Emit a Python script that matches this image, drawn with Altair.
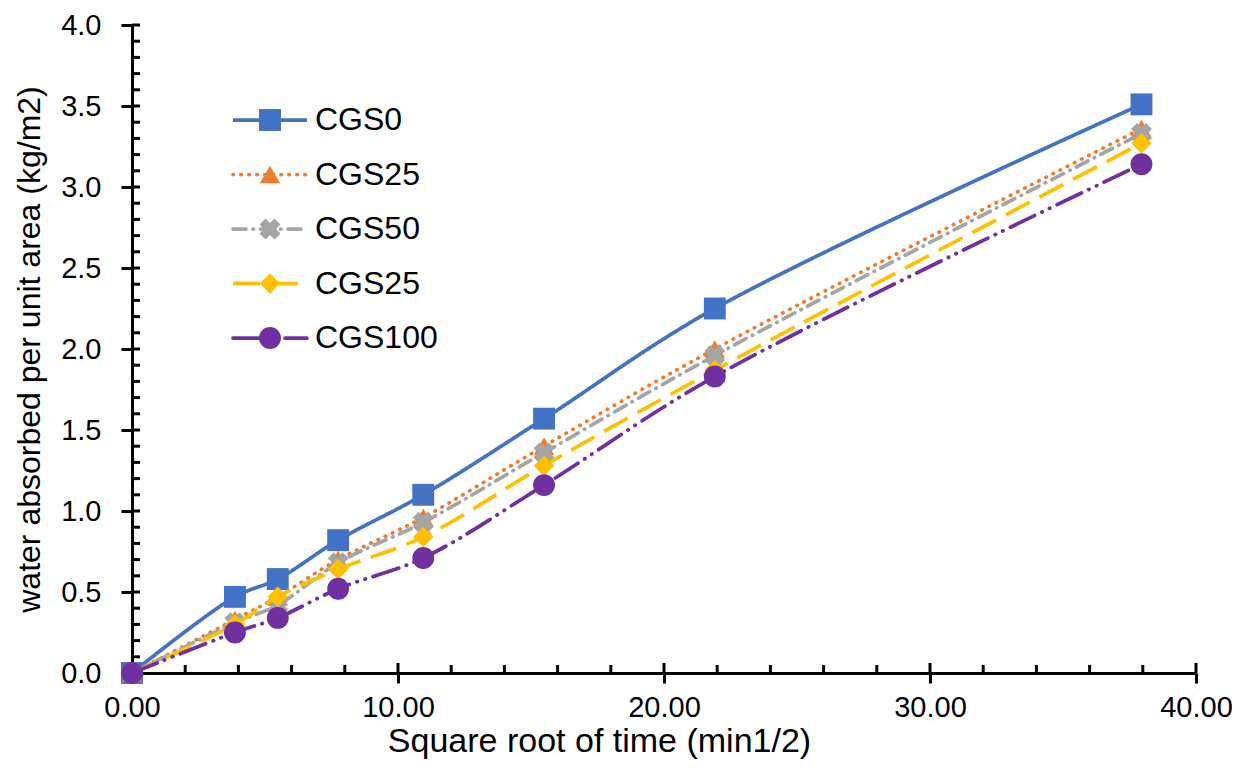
import altair as alt
import pandas as pd

# ---- data ----
x_vals = [0.0, 3.87, 5.48, 7.75, 10.95, 15.49, 21.91, 37.95]
cgs0 = [0.0, 0.47, 0.58, 0.82, 1.10, 1.57, 2.25, 3.51]
cgs25 = [0.0, 0.33, 0.47, 0.70, 0.96, 1.40, 2.00, 3.36]
cgs50 = [0.0, 0.31, 0.42, 0.68, 0.93, 1.36, 1.96, 3.33]
cgs25b = [0.0, 0.30, 0.47, 0.64, 0.84, 1.28, 1.87, 3.27]
cgs100 = [0.0, 0.25, 0.34, 0.52, 0.71, 1.16, 1.83, 3.14]

labels = ["CGS0", "CGS25", "CGS50", "CGS25", "CGS100"]
series = [cgs0, cgs25, cgs50, cgs25b, cgs100]

x_major = [0, 10, 20, 30, 40]
x_minor = [2, 4, 6, 8, 12, 14, 16, 18, 22, 24, 26, 28, 32, 34, 36, 38]
y_major = [0.0, 0.5, 1.0, 1.5, 2.0, 2.5, 3.0, 3.5, 4.0]
y_minor = [0.1, 0.2, 0.3, 0.4, 0.6, 0.7, 0.8, 0.9, 1.1, 1.2, 1.3, 1.4,
           1.6, 1.7, 1.8, 1.9, 2.1, 2.2, 2.3, 2.4, 2.6, 2.7, 2.8, 2.9,
           3.1, 3.2, 3.3, 3.4, 3.6, 3.7, 3.8, 3.9]

# ---- styles ----
colors = ["#4472C4", "#ED7D31", "#A5A5A5", "#FFC000", "#7030A0"]
dashes = [[1, 0], [0.5, 7.5], [13, 7, 0.5, 7], [27, 11], [27, 8, 0.5, 8, 0.5, 8]]
caps = ["butt", "round", "round", "butt", "round"]
shapes = ["square", "triangle-up", "cross", "diamond", "circle"]
sizes = [480, 420, 450, 420, 480]
angles = [0, 0, 45, 0, 0]
LW = 3.75

W, H = 1064, 648
FONT = "Liberation Sans"

xscale = alt.Scale(domain=[0, 40], nice=False, zero=False)
yscale = alt.Scale(domain=[0, 4], nice=False, zero=False)

xaxis = alt.Axis(values=x_major, format=".2f", title="Square root of time (min1/2)",
                 tickSize=10, labelPadding=10, titlePadding=2, labelFontSize=29,
                 titleFontSize=34, labelFont=FONT, titleFont=FONT, titleFontWeight="normal",
                 titleX=467, titleAlign="center",
                 domainColor="black", tickColor="black", domainWidth=3, tickWidth=3,
                 labelColor="black", titleColor="black", grid=False, labelFlush=False)
yaxis = alt.Axis(values=y_major, format=".1f", title="water absorbed per unit area (kg/m2)",
                 tickSize=11, labelPadding=20, titlePadding=14, labelFontSize=29,
                 titleFontSize=32, labelFont=FONT, titleFont=FONT, titleFontWeight="normal",
                 domainColor="black", tickColor="black", domainWidth=3, tickWidth=3,
                 labelColor="black", titleColor="black", grid=False, labelFlush=False)

main_layers = []

# axis-bearing invisible layer
base_df = pd.DataFrame({"x": x_vals, "y": cgs0})
main_layers.append(
    alt.Chart(base_df).mark_point(opacity=0).encode(
        x=alt.X("x:Q", scale=xscale, axis=xaxis),
        y=alt.Y("y:Q", scale=yscale, axis=yaxis),
    )
)

# inward tick marks
ymin_df = pd.DataFrame({"v": y_minor + y_major})
main_layers.append(
    alt.Chart(ymin_df).mark_rule(color="black", strokeWidth=3).encode(
        y=alt.Y("v:Q", scale=yscale), x=alt.value(0), x2=alt.value(8)
    )
)
xmin_df = pd.DataFrame({"v": x_minor})
main_layers.append(
    alt.Chart(xmin_df).mark_rule(color="black", strokeWidth=3).encode(
        x=alt.X("v:Q", scale=xscale), y=alt.value(H), y2=alt.value(H - 8)
    )
)
xmaj_df = pd.DataFrame({"v": x_major})
main_layers.append(
    alt.Chart(xmaj_df).mark_rule(color="black", strokeWidth=3).encode(
        x=alt.X("v:Q", scale=xscale), y=alt.value(H), y2=alt.value(H - 10)
    )
)

for i, (lab, ys) in enumerate(zip(labels, series)):
    df = pd.DataFrame({"x": x_vals, "y": ys})
    line = alt.Chart(df).mark_line(
        color=colors[i], strokeWidth=LW, strokeDash=dashes[i],
        strokeCap=caps[i], interpolate="catmull-rom",
    ).encode(x=alt.X("x:Q", scale=xscale), y=alt.Y("y:Q", scale=yscale))
    pts = alt.Chart(df).mark_point(
        shape=shapes[i], filled=True, size=sizes[i], color=colors[i],
        opacity=1, angle=angles[i],
    ).encode(x=alt.X("x:Q", scale=xscale), y=alt.Y("y:Q", scale=yscale))
    main_layers += [line, pts]

main = alt.layer(*main_layers)

# ---- legend (drawn inside the plot, top-left) ----
legscale = alt.Scale(domain=[0, 4], range=[95, 313], nice=False, zero=False)
leg_layers = []
for i, lab in enumerate(labels):
    ldf = pd.DataFrame({"row": [i], "label": [lab]})
    leg_layers.append(
        alt.Chart(ldf).mark_rule(
            color=colors[i], strokeWidth=LW, strokeDash=dashes[i], strokeCap=caps[i],
        ).encode(y=alt.Y("row:Q", scale=legscale, axis=None),
                 x=alt.value(101), x2=alt.value(175))
    )
    leg_layers.append(
        alt.Chart(ldf).mark_point(
            shape=shapes[i], filled=True, size=sizes[i], color=colors[i],
            opacity=1, angle=angles[i],
        ).encode(y=alt.Y("row:Q", scale=legscale, axis=None), x=alt.value(138))
    )
    leg_layers.append(
        alt.Chart(ldf).mark_text(
            align="left", baseline="middle", fontSize=32, font=FONT, color="black",
        ).encode(y=alt.Y("row:Q", scale=legscale, axis=None), x=alt.value(183),
                 text="label:N")
    )
legend = alt.layer(*leg_layers)

chart = alt.layer(main, legend).resolve_scale(y="independent").properties(
    width=W, height=H,
    autosize=alt.AutoSizeParams(type="none"),
    padding={"left": 124, "top": 17, "right": 36, "bottom": 93},
).configure_view(stroke=None)

chart.save("out.html", embed_options={"renderer": "svg", "actions": False})
